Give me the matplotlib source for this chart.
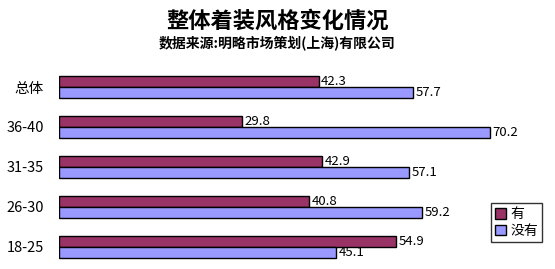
import numpy as np
import matplotlib
matplotlib.use("Agg")
import matplotlib.pyplot as plt

plt.rcParams['font.family'] = ['Noto Sans CJK SC', 'DejaVu Sans']

categories = ["18-25", "26-30", "31-35", "36-40", "总体"]
has_values = [54.9, 40.8, 42.9, 29.8, 42.3]
no_values = [45.1, 59.2, 57.1, 70.2, 57.7]
series_names = ["有", "没有"]
colors = ["#993366", "#9999FF"]

fig = plt.figure(figsize=(5.55, 2.69), dpi=100)
ax = fig.add_axes([59 / 555, 2 / 269, 491 / 555, 200 / 269])

y = np.arange(len(categories))
h = 0.275
b1 = ax.barh(y + h / 2, has_values, height=h, color=colors[0], edgecolor="black",
             linewidth=1, label=series_names[0])
b2 = ax.barh(y - h / 2, no_values, height=h, color=colors[1], edgecolor="black",
             linewidth=1, label=series_names[1])

# value labels just right of each bar
for bars, vals in [(b1, has_values), (b2, no_values)]:
    for bar, v in zip(bars, vals):
        ax.text(v + 0.4, bar.get_y() + bar.get_height() / 2, f"{v:.1f}",
                va="center", ha="left", fontsize=9.5, color="black")

ax.set_xlim(0, 80)
ax.set_ylim(-0.5, len(categories) - 0.5)
ax.set_yticks(y)
ax.set_yticklabels(categories, fontsize=10.5)
ax.set_xticks([])
ax.tick_params(axis="y", length=0, pad=11)
for s in ax.spines.values():
    s.set_visible(False)

leg = ax.legend(loc="upper left", bbox_to_anchor=(432 / 491, 0.32), fontsize=10,
                frameon=True, fancybox=False, edgecolor="black", handlelength=0.8,
                handleheight=0.8, handletextpad=0.3, borderpad=0.3, labelspacing=0.2,
                borderaxespad=0)
leg.get_frame().set_linewidth(1)

fig.text(0.5, 1 - 21 / 269, "整体着装风格变化情况", ha="center", va="center",
         fontsize=16, fontweight="bold")
fig.text(0.5, 1 - 44 / 269, "数据来源:明略市场策划(上海)有限公司", ha="center", va="center",
         fontsize=10, fontweight="bold")

fig.savefig("out.png", dpi=100)
